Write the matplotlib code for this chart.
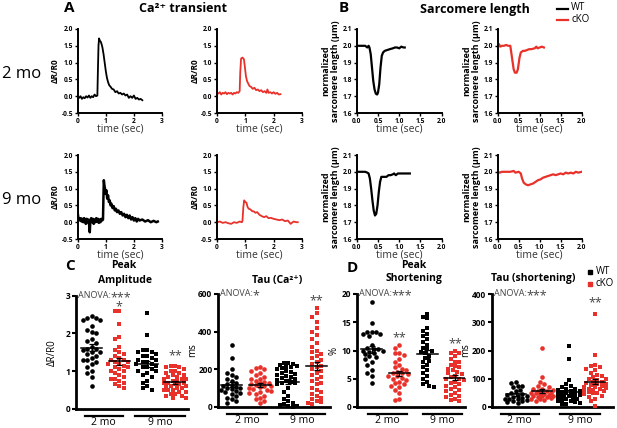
import numpy as np
import matplotlib
matplotlib.use('Agg')
import matplotlib.pyplot as plt
import matplotlib.transforms as mtransforms

plt.rcParams['font.family'] = ['Open Sans', 'DejaVu Sans']

W, H = 617, 428
RED = '#e8312a'

# ---- traces (time in sec, value) ----
ca2_wt = [(0.00, 0.00), (0.05, -0.05), (0.10, 0.00), (0.15, -0.08), (0.20, -0.03), (0.25, -0.06), (0.30, 0.00),
          (0.35, -0.04), (0.40, 0.02), (0.45, -0.05), (0.50, 0.00), (0.55, -0.03), (0.60, 0.05), (0.65, 0.00),
          (0.70, 0.02), (0.72, 0.80), (0.74, 1.50), (0.76, 1.72), (0.79, 1.65), (0.82, 1.62), (0.85, 1.55),
          (0.88, 1.45), (0.92, 1.25), (0.96, 1.00), (1.00, 0.75), (1.04, 0.55), (1.08, 0.42), (1.12, 0.33),
          (1.17, 0.28), (1.22, 0.22), (1.28, 0.20), (1.34, 0.12), (1.40, 0.15), (1.46, 0.08), (1.52, 0.10),
          (1.58, 0.05), (1.64, 0.08), (1.70, 0.02), (1.76, 0.05), (1.82, -0.05), (1.88, 0.00), (1.94, -0.05),
          (2.00, 0.02), (2.06, -0.08), (2.12, -0.05), (2.18, -0.10), (2.24, -0.08), (2.30, -0.12)]
ca2_cko = [(0.00, 0.10), (0.05, 0.08), (0.10, 0.12), (0.15, 0.05), (0.20, 0.10), (0.25, 0.08), (0.30, 0.12),
           (0.35, 0.06), (0.40, 0.10), (0.45, 0.08), (0.50, 0.10), (0.55, 0.05), (0.60, 0.10), (0.65, 0.08),
           (0.70, 0.12), (0.75, 0.10), (0.80, 0.15), (0.82, 0.70), (0.85, 1.12), (0.90, 1.15), (0.95, 1.10),
           (0.98, 0.90), (1.02, 0.60), (1.06, 0.45), (1.10, 0.38), (1.15, 0.30), (1.20, 0.28), (1.26, 0.22),
           (1.32, 0.25), (1.38, 0.18), (1.44, 0.20), (1.50, 0.15), (1.56, 0.18), (1.62, 0.12), (1.68, 0.15),
           (1.74, 0.10), (1.78, 0.20), (1.82, 0.10), (1.88, 0.12), (1.94, 0.08), (2.00, 0.12), (2.06, 0.07),
           (2.12, 0.10), (2.18, 0.05), (2.24, 0.06)]
ca9_wt = [(0.00, 0.28), (0.02, 0.15), (0.05, 0.10), (0.08, 0.05), (0.11, 0.12), (0.14, 0.02), (0.17, 0.10),
          (0.20, 0.00), (0.23, 0.12), (0.26, 0.05), (0.29, -0.05), (0.32, 0.10), (0.35, 0.00), (0.38, 0.08),
          (0.41, -0.10), (0.43, -0.30), (0.45, 0.05), (0.48, 0.12), (0.51, 0.00), (0.54, 0.10), (0.57, -0.05),
          (0.60, 0.08), (0.63, 0.00), (0.66, 0.12), (0.69, 0.02), (0.72, 0.10), (0.75, -0.02), (0.78, 0.08),
          (0.81, 0.00), (0.84, 0.10), (0.87, 0.05), (0.90, 0.08), (0.92, 0.90), (0.93, 1.25), (0.95, 1.10),
          (0.97, 1.00), (0.99, 0.85), (1.02, 0.95), (1.05, 0.70), (1.08, 0.80), (1.11, 0.60), (1.14, 0.65),
          (1.17, 0.50), (1.20, 0.55), (1.24, 0.42), (1.28, 0.48), (1.32, 0.35), (1.36, 0.40), (1.40, 0.30),
          (1.45, 0.35), (1.50, 0.25), (1.55, 0.30), (1.60, 0.20), (1.65, 0.25), (1.70, 0.15), (1.75, 0.22),
          (1.80, 0.12), (1.85, 0.20), (1.90, 0.08), (1.95, 0.15), (2.00, 0.05), (2.05, 0.12), (2.10, 0.02),
          (2.15, 0.10), (2.20, 0.05), (2.30, 0.08), (2.40, 0.02), (2.50, 0.06), (2.60, 0.00), (2.70, 0.04),
          (2.80, 0.00), (2.85, 0.02)]
ca9_cko = [(0.00, 0.00), (0.10, 0.02), (0.20, -0.02), (0.30, 0.00), (0.40, -0.03), (0.50, -0.05), (0.60, 0.00),
           (0.70, -0.02), (0.80, 0.02), (0.88, 0.00), (0.90, 0.05), (0.93, 0.45), (0.96, 0.65), (1.00, 0.60),
           (1.04, 0.58), (1.08, 0.45), (1.12, 0.40), (1.18, 0.38), (1.24, 0.33), (1.30, 0.32), (1.36, 0.28),
           (1.42, 0.30), (1.50, 0.22), (1.58, 0.18), (1.66, 0.15), (1.74, 0.18), (1.82, 0.12), (1.90, 0.13),
           (2.00, 0.10), (2.10, 0.08), (2.20, 0.06), (2.30, 0.08), (2.40, 0.03), (2.50, 0.05), (2.60, -0.05),
           (2.70, 0.02), (2.80, 0.00), (2.85, 0.00)]
sl2_wt = [(0.00, 2.0), (0.10, 2.0), (0.20, 2.0), (0.25, 1.99), (0.28, 2.0), (0.30, 1.99), (0.33, 1.95),
          (0.36, 1.87), (0.39, 1.79), (0.42, 1.74), (0.45, 1.715), (0.48, 1.71), (0.50, 1.72), (0.53, 1.77),
          (0.56, 1.87), (0.59, 1.94), (0.62, 1.96), (0.66, 1.97), (0.72, 1.975), (0.78, 1.98), (0.85, 1.985),
          (0.90, 1.99), (0.95, 1.99), (1.00, 1.985), (1.05, 1.995), (1.10, 1.99), (1.13, 1.99)]
sl2_cko = [(0.00, 2.0), (0.03, 2.01), (0.06, 1.995), (0.10, 2.0), (0.15, 2.0), (0.20, 2.005), (0.25, 2.0),
           (0.30, 2.0), (0.34, 1.93), (0.38, 1.86), (0.41, 1.84), (0.45, 1.84), (0.48, 1.86), (0.52, 1.93),
           (0.55, 1.96), (0.60, 1.97), (0.65, 1.97), (0.70, 1.975), (0.75, 1.98), (0.80, 1.98), (0.88, 1.985),
           (0.92, 1.995), (0.95, 1.985), (1.00, 1.99), (1.05, 1.995), (1.10, 1.99)]
sl9_wt = [(0.00, 2.0), (0.10, 2.0), (0.20, 2.0), (0.25, 1.995), (0.28, 1.99), (0.31, 1.96), (0.34, 1.90),
          (0.37, 1.83), (0.40, 1.77), (0.43, 1.74), (0.46, 1.75), (0.49, 1.80), (0.52, 1.88), (0.55, 1.94),
          (0.58, 1.97), (0.62, 1.97), (0.70, 1.97), (0.75, 1.98), (0.80, 1.98), (0.85, 1.985), (0.88, 1.99),
          (0.92, 1.98), (0.97, 1.99), (1.05, 1.99), (1.15, 1.99), (1.25, 1.99)]
sl9_cko = [(0.00, 2.0), (0.05, 1.995), (0.10, 2.0), (0.20, 2.0), (0.30, 2.0), (0.38, 2.005), (0.42, 1.995),
           (0.50, 2.0), (0.55, 1.99), (0.58, 1.96), (0.62, 1.935), (0.67, 1.925), (0.72, 1.92), (0.78, 1.925),
           (0.84, 1.93), (0.90, 1.94), (0.96, 1.95), (1.02, 1.955), (1.08, 1.965), (1.14, 1.97), (1.20, 1.975),
           (1.26, 1.98), (1.32, 1.985), (1.38, 1.98), (1.44, 1.985), (1.50, 1.99), (1.56, 1.985), (1.62, 1.995),
           (1.68, 1.99), (1.74, 1.995), (1.80, 1.99), (1.86, 2.0), (1.92, 1.995), (2.00, 2.0)]

# ---- scatter data: groups WT 2mo, cKO 2mo, WT 9mo, cKO 9mo ----
amp_wt2 = [2.45, 2.4, 2.4, 2.35, 2.35, 2.2, 2.1, 2.05, 2.0, 1.85, 1.8, 1.75, 1.65, 1.6, 1.6, 1.55, 1.5, 1.5,
           1.45, 1.4, 1.35, 1.3, 1.3, 1.25, 1.2, 1.1, 1.0, 0.95, 0.85, 0.6]
amp_cko2 = [2.6, 2.6, 2.25, 1.9, 1.85, 1.65, 1.55, 1.5, 1.45, 1.4, 1.35, 1.3, 1.3, 1.25, 1.25, 1.2, 1.2, 1.15,
            1.1, 1.1, 1.05, 1.0, 1.0, 0.95, 0.9, 0.85, 0.8, 0.8, 0.75, 0.7, 0.65, 0.6, 0.55]
amp_wt9 = [2.55, 1.95, 1.55, 1.55, 1.5, 1.5, 1.45, 1.4, 1.4, 1.35, 1.3, 1.3, 1.25, 1.25, 1.2, 1.2, 1.15, 1.1,
           1.1, 1.05, 1.0, 1.0, 0.95, 0.9, 0.85, 0.75, 0.7, 0.6, 0.55, 0.5]
amp_cko9 = [1.15, 1.15, 1.1, 1.1, 1.05, 1.0, 1.0, 0.95, 0.95, 0.9, 0.9, 0.85, 0.85, 0.8, 0.8, 0.8, 0.75, 0.75,
            0.7, 0.7, 0.7, 0.65, 0.65, 0.6, 0.6, 0.6, 0.55, 0.55, 0.5, 0.5, 0.5, 0.45, 0.45, 0.4, 0.4, 0.35,
            0.35, 0.3, 0.3]
tca_wt2 = [330, 260, 200, 180, 170, 160, 150, 140, 130, 120, 115, 110, 105, 100, 100, 95, 90, 85, 80, 75, 70,
           60, 50, 40, 30, 20]
tca_cko2 = [210, 205, 200, 190, 180, 170, 160, 150, 150, 140, 135, 130, 125, 120, 115, 110, 110, 105, 100, 95,
            90, 85, 80, 75, 70, 60, 50, 40, 30, 20]
tca_wt9 = [235, 232, 228, 225, 220, 215, 210, 205, 200, 190, 185, 180, 175, 170, 165, 160, 155, 150, 145, 140,
           135, 130, 125, 120, 100, 80, 60, 40, 30, 20, 15, 10, 5, 5, 0]
tca_cko9 = [525, 500, 480, 450, 420, 400, 380, 360, 340, 320, 300, 290, 280, 270, 260, 250, 240, 230, 220, 210,
            200, 190, 180, 170, 160, 150, 140, 130, 120, 100, 90, 80, 70, 60, 50, 40, 30, 25, 20, 15]
sh_wt2 = [18.5, 14.8, 13.2, 13.2, 13.2, 13.0, 13.0, 12.5, 11.0, 10.5, 10.3, 10.2, 10.0, 10.0, 9.8, 9.5, 9.3,
          9.0, 8.8, 8.5, 8.0, 7.5, 6.5, 6.0, 5.5, 4.3]
sh_cko2 = [11.0, 10.5, 9.5, 9.5, 9.2, 8.5, 8.0, 7.5, 7.0, 6.8, 6.5, 6.2, 6.0, 6.0, 5.8, 5.5, 5.5, 5.2, 5.0, 4.8,
           4.5, 4.2, 4.0, 3.8, 3.5, 3.0, 2.5, 1.5, 1.3]
sh_wt9 = [16.5, 16.0, 15.7, 14.0, 13.5, 13.0, 12.5, 12.0, 11.5, 11.0, 10.5, 10.2, 10.0, 9.8, 9.5, 9.0, 8.7,
          8.2, 8.0, 7.5, 7.0, 6.5, 6.0, 5.5, 5.0, 4.5, 4.0, 3.8, 3.5]
sh_cko9 = [10.0, 9.5, 9.5, 9.0, 8.5, 8.0, 8.0, 7.5, 7.2, 7.0, 6.8, 6.5, 6.2, 6.0, 5.8, 5.5, 5.3, 5.0, 5.0, 4.8,
           4.5, 4.3, 4.0, 3.8, 3.5, 3.2, 3.0, 2.8, 2.5, 2.2, 2.0, 1.8, 1.5, 1.2, 1.0]
tsh_wt2 = [90, 85, 75, 75, 70, 60, 55, 50, 45, 42, 40, 38, 35, 33, 30, 30, 28, 25, 22, 20, 18, 15]
tsh_cko2 = [210, 105, 90, 80, 75, 70, 65, 62, 60, 58, 55, 52, 50, 50, 48, 45, 45, 42, 40, 40, 38, 35, 35, 32,
            30, 28, 25, 20]
tsh_wt9 = [215, 170, 95, 80, 75, 70, 65, 62, 60, 58, 55, 52, 50, 48, 45, 45, 42, 40, 40, 38, 35, 35, 32, 30,
           28, 25, 22, 20, 18, 15, 12, 10]
tsh_cko9 = [330, 185, 150, 145, 140, 135, 130, 120, 115, 110, 105, 100, 100, 95, 90, 88, 85, 82, 80, 78, 75,
            72, 70, 68, 65, 62, 60, 58, 55, 52, 50, 48, 45, 40, 35, 30, 20, 5]

fig = plt.figure(figsize=(W / 100, H / 100), dpi=100)


def box(x0, x1, ytop, ybot):
    return [x0 / W, 1 - ybot / H, (x1 - x0) / W, (ybot - ytop) / H]


def ftext(x, y, s, **kw):
    fig.text(x / W, 1 - y / H, s, ha=kw.pop('ha', 'center'), va=kw.pop('va', 'center'), **kw)


def style(ax, lw=1.4):
    for sp in ['top', 'right']:
        ax.spines[sp].set_visible(False)
    for sp in ['left', 'bottom']:
        ax.spines[sp].set_linewidth(lw)
    ax.tick_params(direction='out', length=2.5, width=1, pad=1)


def trace_ax(rect, data, color, kind, lw=1.3):
    ax = fig.add_axes(rect)
    t, v = zip(*data)
    ax.plot(t, v, color=color, lw=lw)
    style(ax)
    if kind == 'ca':
        ax.set_xlim(0, 3)
        ax.set_ylim(-0.5, 2.0)
        ax.set_xticks([0, 1, 2, 3])
        ax.set_yticks([-0.5, 0, 0.5, 1, 1.5, 2])
        ax.set_yticklabels(['-0.5', '0.0', '0.5', '1.0', '1.5', '2.0'])
        ax.set_ylabel('ΔR/R0', fontsize=6, fontweight='bold', labelpad=1)
    else:
        ax.set_xlim(0, 2)
        ax.set_ylim(1.6, 2.1)
        ax.set_xticks([0, 0.5, 1, 1.5, 2])
        ax.set_xticklabels(['0.0', '0.5', '1.0', '1.5', '2.0'])
        ax.set_yticks([1.6, 1.7, 1.8, 1.9, 2.0, 2.1])
        ax.set_ylabel('normalized\nsarcomere length (µm)', fontsize=6.5, fontweight='bold', labelpad=2,
                      linespacing=1.0)
    for lab in ax.get_xticklabels() + ax.get_yticklabels():
        lab.set_fontsize(4.8)
        lab.set_fontweight('bold')
    ax.set_xlabel('time (sec)', fontsize=7.5, color='#333333', labelpad=-1)
    return ax


trace_ax(box(77.7, 162, 29, 113), ca2_wt, 'black', 'ca')
trace_ax(box(217, 302, 29, 113), ca2_cko, RED, 'ca')
trace_ax(box(77.7, 162, 155, 239), ca9_wt, 'black', 'ca', lw=1.8)
trace_ax(box(217, 302, 155, 239), ca9_cko, RED, 'ca')
trace_ax(box(356.7, 441.7, 29, 113), sl2_wt, 'black', 'sl', lw=1.6)
trace_ax(box(497.7, 581.7, 29, 113), sl2_cko, RED, 'sl', lw=1.6)
trace_ax(box(356.7, 441.7, 155, 239), sl9_wt, 'black', 'sl', lw=1.6)
trace_ax(box(497.7, 581.7, 155, 239), sl9_cko, RED, 'sl', lw=1.6)


def swarm_x(vals, center, ypx_per_unit, xpx_per_unit, dia=4.4, maxpx=12.5):
    # beeswarm in pixel space, with a cap on the half width
    ys = np.asarray(vals, dtype=float) * ypx_per_unit
    order = np.argsort(-ys, kind='stable')
    placed = []
    xs = np.zeros(len(ys))
    cands = [0.0]
    k = 1
    while k * dia * 0.5 <= maxpx:
        cands += [-k * dia * 0.5, k * dia * 0.5]
        k += 1
    for i in order:
        best, best_d = 0.0, -1.0
        for c in cands:
            d = min([np.hypot(px - c, py - ys[i]) for (px, py) in placed] or [99.0])
            if d >= dia:
                best = c
                break
            if d > best_d:
                best, best_d = c, d
        placed.append((best, ys[i]))
        xs[i] = center + best / xpx_per_unit
    return xs


def scatter_ax(rect, groups, markers, ylim, yticks, ylabel, xlim, lines, stars, anova, ylab_x):
    ax = fig.add_axes(rect)
    colors = ['black', RED, 'black', RED]
    ypx = rect[3] * H / (ylim[1] - ylim[0])
    xpx = rect[2] * W / (xlim[1] - xlim[0])
    for i, (vals, mk, c) in enumerate(zip(groups, markers, colors)):
        pos = i + 1
        xs = swarm_x(vals, pos, ypx, xpx)
        ax.scatter(xs, vals, s=11 if mk == 'o' else 10, marker=mk, color=c, linewidths=0, zorder=3,
                   clip_on=False)
        m = np.mean(vals)
        sem = np.std(vals, ddof=1) / np.sqrt(len(vals))
        ax.plot([pos - 0.38, pos + 0.38], [m, m], color='black', lw=1.1, zorder=4)
        ax.errorbar([pos], [m], yerr=[sem], color='black', lw=0.9, capsize=2.5, capthick=0.9, zorder=4)
    ax.set_xlim(*xlim)
    ax.set_ylim(*ylim)
    ax.set_yticks(yticks)
    ax.set_xticks([])
    style(ax, lw=2)
    ax.tick_params(axis='y', length=3, width=1.5)
    for lab in ax.get_yticklabels():
        lab.set_fontsize(6)
        lab.set_fontweight('bold')
    ax.set_ylabel(ylabel, fontsize=7)
    ax.yaxis.set_label_coords(ylab_x, 0.5)
    trans = mtransforms.blended_transform_factory(ax.transData, ax.transAxes)
    for (a, b), lab in zip(lines, ['2 mo', '9 mo']):
        ax.plot([a, b], [-0.06, -0.06], transform=trans, color='black', lw=1.6, clip_on=False)
        ax.text((a + b) / 2, -0.118, lab, transform=trans, ha='center', va='center', fontsize=7.5)
    for pos, y, s in stars:
        ax.text(pos, y, s, ha='center', va='center', fontsize=9, color='#444444')
    ax.annotate('ANOVA:', xy=(0.02, 1.0), xycoords='axes fraction', ha='left', va='center', fontsize=6.5,
                color='#444444')
    ax.annotate(anova, xy=(0.02, 0.985), xycoords='axes fraction', xytext=(23.5, 0),
                textcoords='offset points', ha='left', va='center', fontsize=9, color='#444444')
    return ax


scatter_ax(box(76, 188, 295.7, 409), [amp_wt2, amp_cko2, amp_wt9, amp_cko9], ['o', 's', 's', 's'],
           (0, 3), [0, 1, 2, 3], 'ΔR/R0', (0.44, 4.47), [(0.76, 2.12), (2.56, 4.36)],
           [(2, 2.71, '*'), (4, 1.42, '**')], '***', -0.16)
scatter_ax(box(218, 330, 294, 407), [tca_wt2, tca_cko2, tca_wt9, tca_cko9], ['o', 'o', 's', 's'],
           (0, 600), [0, 200, 400, 600], 'ms', (0.52, 4.47), [(0.85, 2.24), (2.71, 4.30)],
           [(4, 565, '**')], '*', -0.18)
scatter_ax(box(356.7, 465, 294, 407), [sh_wt2, sh_cko2, sh_wt9, sh_cko9], ['o', 'o', 's', 's'],
           (0, 20), [0, 5, 10, 15, 20], '%', (0.46, 4.36), [(0.87, 2.26), (2.85, 4.25)],
           [(2, 12.2, '**'), (4, 11.2, '**')], '***', -0.16)
scatter_ax(box(491.7, 613, 294, 407), [tsh_wt2, tsh_cko2, tsh_wt9, tsh_cko9], ['o', 'o', 's', 's'],
           (0, 400), [0, 100, 200, 300, 400], 'ms', (0.1, 4.67), [(0.44, 1.87), (2.69, 4.19)],
           [(4, 368, '**')], '***', -0.17)

# ---- headers and labels ----
ftext(69, 8, 'A', fontsize=11, fontweight='bold')
ftext(183, 9, 'Ca²⁺ transient', fontsize=9, fontweight='bold')
ftext(344, 8, 'B', fontsize=11, fontweight='bold')
ftext(475, 10, 'Sarcomere length', fontsize=9, fontweight='bold')
ftext(22, 74, '2 mo', fontsize=12)
ftext(22, 200, '9 mo', fontsize=12)
ftext(70, 266, 'C', fontsize=11, fontweight='bold')
ftext(124, 266, 'Peak', fontsize=7.5, fontweight='bold')
ftext(125, 280, 'Amplitude', fontsize=7.5, fontweight='bold')
ftext(277, 280, 'Tau (Ca²⁺)', fontsize=7.5, fontweight='bold')
ftext(352, 268, 'D', fontsize=11, fontweight='bold')
ftext(414, 265, 'Peak', fontsize=7.5, fontweight='bold')
ftext(414, 279, 'Shortening', fontsize=7.5, fontweight='bold')
ftext(533, 279, 'Tau (shortening)', fontsize=7.5, fontweight='bold')

# legends
fig.add_artist(plt.Line2D([557 / W, 568 / W], [1 - 9 / H, 1 - 9 / H], color='black', lw=1.6))
fig.add_artist(plt.Line2D([557 / W, 568 / W], [1 - 20 / H, 1 - 20 / H], color=RED, lw=1.6))
ftext(571, 8, 'WT', fontsize=7, ha='left')
ftext(571, 20, 'cKO', fontsize=7, ha='left')
fig.add_artist(plt.Line2D([590 / W], [1 - 272 / H], marker='s', color='black', markersize=3.5, lw=0))
fig.add_artist(plt.Line2D([590 / W], [1 - 284 / H], marker='s', color=RED, markersize=3.5, lw=0))
ftext(596, 271, 'WT', fontsize=7, ha='left')
ftext(596, 284, 'cKO', fontsize=7, ha='left')

fig.savefig('out.png', dpi=100)
